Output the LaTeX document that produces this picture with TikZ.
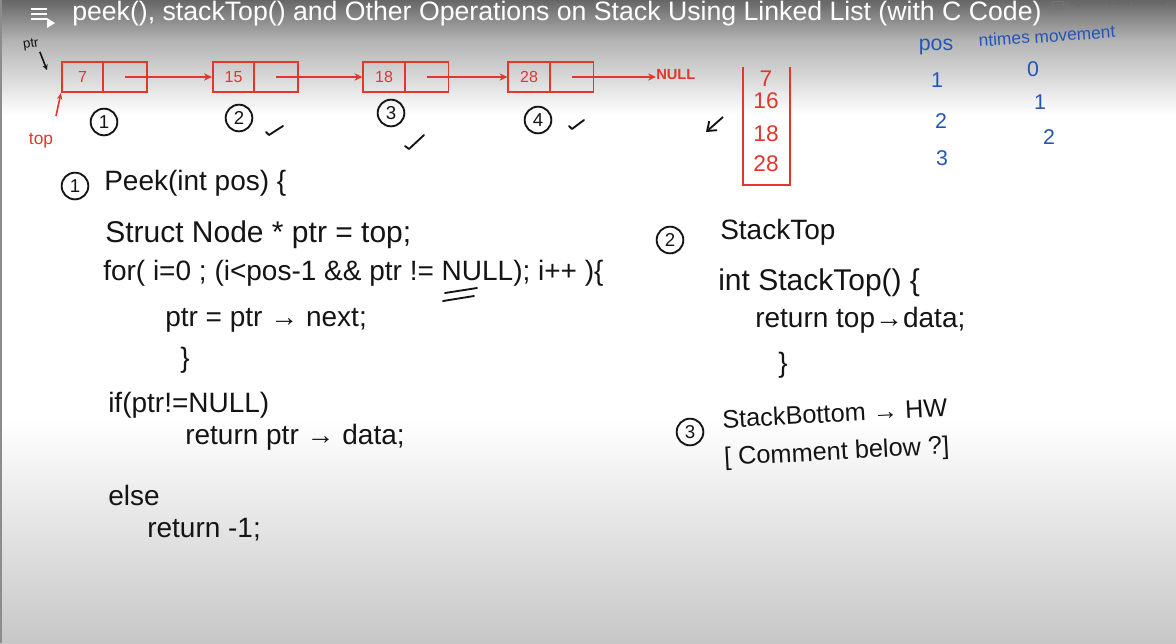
\documentclass[tikz,border=0pt]{standalone}
\usepackage{fontspec}
\setmainfont{Liberation Sans}
\usetikzlibrary{arrows.meta,calc}
\definecolor{ink}{RGB}{20,20,20}
\definecolor{redink}{RGB}{225,55,45}
\definecolor{blueink}{RGB}{35,85,185}
\tikzset{
  cell/.style={draw=redink, line width=1.3pt, minimum height=22.5pt, inner sep=0pt, text=redink, font=\fontsize{12}{12}\selectfont},
  dcell/.style={cell, minimum width=31pt},
  ncell/.style={cell, minimum width=33pt},
  link/.style={draw=redink, line width=1.4pt, -{Stealth[length=6pt,width=5.5pt]}},
  code/.style={text=ink, anchor=west, inner sep=0pt, font=\fontsize{21}{23}\selectfont},
  bigcode/.style={code, font=\fontsize{22.5}{24}\selectfont},
  smallcode/.style={code, font=\fontsize{19}{21}\selectfont},
  circnum/.style={draw=ink, circle, line width=1.4pt, minimum size=20pt, inner sep=0pt, text=ink, font=\fontsize{14}{14}\selectfont},
  tick/.style={draw=ink, line width=1.4pt, line cap=round, line join=round},
  bluetxt/.style={text=blueink, inner sep=0pt, font=\fontsize{16}{16}\selectfont},
  stacknum/.style={text=redink, inner sep=0pt, font=\fontsize{17}{17}\selectfont},
}
\begin{document}
\begin{tikzpicture}[x=0.75pt,y=-0.75pt]
\clip (0,0) rectangle (1176,643);
% background
\fill[white] (0,0) rectangle (1176,643);
\shade[top color=black!60, bottom color=black!30] (0,0) rectangle (1176,40);
\shade[top color=black!30, bottom color=white] (0,40) rectangle (1176,115);
\shade[top color=white, bottom color=black!22] (0,420) rectangle (1176,643);
\fill[black!45] (0,0) rectangle (2,643);
% title bar
\foreach \yy in {9,14,19} \draw[white, line width=2.2pt] (31,\yy) -- (47,\yy);
\fill[white] (47,18) -- (47,28) -- (55,23) -- cycle;
\node[anchor=west, text=white, inner sep=0pt, font=\fontsize{20}{22}\selectfont] (title) at (72,14) {peek(), stackTop() and Other Operations on Stack Using Linked List (with C Code)};
\draw[black!55, line width=0.6pt] (1052,1) rectangle (1063,8);
\node[anchor=west, text=black!60, inner sep=0pt, font=\fontsize{5.5}{6}\selectfont] (chan) at (1070,4) {Algorithms \& Data Structures};
% ptr label
\node[text=ink, inner sep=0pt, rotate=8, font=\fontsize{10}{10}\selectfont] (ptrlbl) at (31,45) {ptr};
\coordinate (ptrtip) at (47,70);
\draw[ink, line width=1.2pt, -{Stealth[length=4pt,width=4pt]}] ($(ptrlbl.south east)+(0,2)$) -- (ptrtip);
% linked list
\node[dcell] (d1) at (82.5,77) {7};
\node[ncell] (n1) at (125,77) {};
\node[dcell] (d2) at (233.5,77) {15};
\node[ncell] (n2) at (276,77) {};
\node[dcell] (d3) at (384,77) {18};
\node[ncell] (n3) at (426.5,77) {};
\node[dcell] (d4) at (529,77) {28};
\node[ncell] (n4) at (571.5,77) {};
\node[anchor=west, text=redink, inner sep=0pt, font=\bfseries\fontsize{11}{11}\selectfont] (null) at (656,75) {NULL};
\draw[link] (n1.center) -- (d2.west);
\draw[link] (n2.center) -- (d3.west);
\draw[link] (n3.center) -- (d4.west);
\draw[link] (n4.center) -- (n4.center -| null.west);
% top label
\node[text=redink, inner sep=0pt, font=\fontsize{13}{13}\selectfont] (toplbl) at (41,141) {top};
\draw[redink, line width=1.2pt, -{Stealth[length=5pt,width=4pt]}] (56,116) -- (d1.south west);
% circled numbers
\node[circnum] (c1) at (104,122) {1};
\node[circnum] (c2) at (239,118) {2};
\node[circnum] (c3) at (391,113) {3};
\node[circnum] (c4) at (538,120) {4};
\draw[tick] (266,132) -- (269,135) -- (283,126);
\draw[tick] (405,146) -- (409,149) -- (424,135);
\draw[tick] (569,126) -- (572,129) -- (584,120);
% stack
\draw[redink, line width=1.4pt] (743,67) -- (743,185) -- (790,185) -- (790,67);
\node[stacknum] (s1) at (766,79) {7};
\node[stacknum] (s2) at (766,101) {16};
\node[stacknum] (s3) at (766,134) {18};
\node[stacknum] (s4) at (766,164) {28};
\draw[ink, line width=1.4pt, -{Straight Barb[length=6pt,width=9pt]}] (723,117) -- (706,132);
% blue table
\node[bluetxt] (pos) at (936,47) {pos};
\node[bluetxt, rotate=4, font=\fontsize{13}{13}\selectfont] (ntimes) at (1047,36) {ntimes movement};
\node[bluetxt] (p1) at (937,80) {1};
\node[bluetxt] (p2) at (941,121) {2};
\node[bluetxt] (p3) at (942,158) {3};
\node[bluetxt] (m0) at (1033,69) {0};
\node[bluetxt] (m1) at (1040,102) {1};
\node[bluetxt] (m2) at (1049,137) {2};
% peek code
\node[circnum] (k1) at (75,186) {1};
\node[code] (l1) at (104,183) {Peek(int pos) \{};
\node[bigcode] (l2) at (105,235) {Struct Node * ptr = top;};
\node[code] (l3) at (103,273) {for( i=0 ; (i<pos-1 \&\& ptr != NULL); i++ )\{};
\draw[tick] (445,293) -- (477,288);
\draw[tick] (443,301) -- (474,296);
\node[code] (l4) at (165,320) {ptr = ptr → next;};
\node[code] (l5) at (180,360) {\}};
\node[code] (l6) at (108,405) {if(ptr!=NULL)};
\node[code] (l7) at (185,437) {return ptr → data;};
\node[code] (l8) at (108,495) {else};
\node[code] (l9) at (147,530) {return -1;};
% stackTop code
\node[circnum] (k2) at (670,240) {2};
\node[code] (r1) at (720,232) {StackTop};
\node[bigcode] (r2) at (718,283) {int StackTop() \{};
\node[code] (r3) at (755,320) {return top→data;};
\node[code] (r4) at (778,365) {\}};
\node[circnum] (k3) at (690,432) {3};
\node[smallcode, rotate=3] (r5) at (722,419) {StackBottom → HW};
\node[smallcode, rotate=3] (r6) at (724,459) {[ Comment below ?]};
\end{tikzpicture}
\end{document}
